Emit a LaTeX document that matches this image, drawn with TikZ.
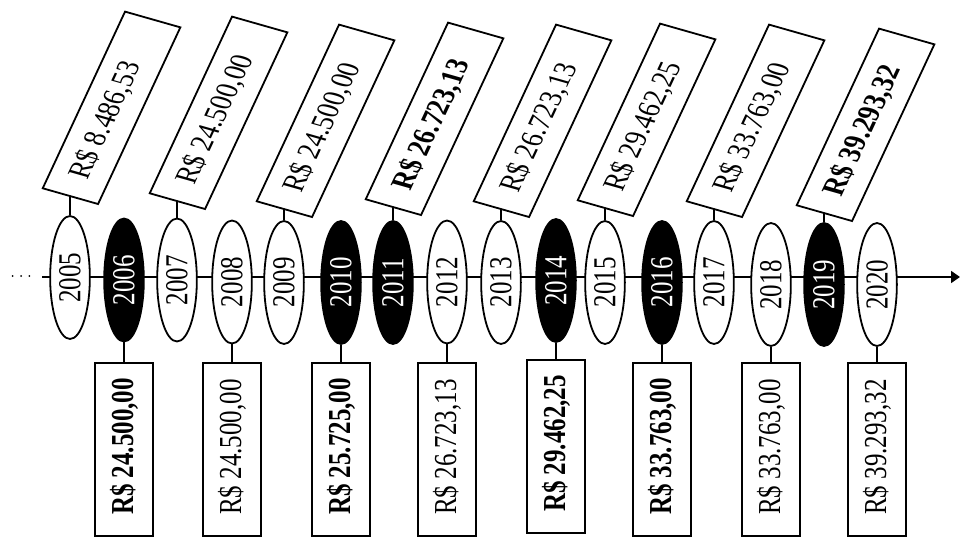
\documentclass[tikz,border=0pt]{standalone}
\usepackage{fontspec}
\setmainfont{Liberation Serif}
\usetikzlibrary{arrows.meta,shapes.geometric}

% value text, set flush left in a box of fixed length
\newcommand{\valtop}[1]{\makebox[150pt][l]{#1}}
\newcommand{\valbot}[1]{\makebox[131pt][l]{#1}}

\begin{document}
\begin{tikzpicture}[
    x=1pt, y=1pt,
    font=\fontsize{25}{30}\selectfont,
    line width=1.8pt,
    yearnode/.style={ellipse, draw, fill=white, rotate=90, minimum width=123pt, minimum height=31pt, inner sep=0pt},
    yearhi/.style={yearnode, fill=black, text=white},
    topbox/.style={rectangle, draw, fill=white, rotate=70, anchor=west, minimum height=46pt, inner xsep=19pt, inner ysep=0pt},
    botbox/.style={rectangle, draw, fill=white, rotate=90, anchor=east, minimum height=45pt, inner xsep=21pt, inner ysep=0pt},
    boldval/.style={font=\fontsize{25}{30}\selectfont\bfseries},
    axis/.style={-{Triangle[length=9pt, width=12pt]}},
    dots/.style={line cap=round, dash pattern=on 0pt off 8.3pt, line width=2pt}
]
\useasboundingbox (0,0) rectangle (960,536);

% ============================================================
% TIME AXIS — drawn first so the years sit on top of it
% ============================================================
\coordinate (dotsL) at (12.7,260);
\coordinate (dotsR) at (29.3,260);
\coordinate (axstart) at (42,259);
\coordinate (axend) at (960,259);
\draw[dots] (dotsL) -- (dotsR);
\draw[axis] (axstart) -- (axend);

\begin{scope}[xscale=1.28, transform shape]
% ============================================================
% YEARS
% ============================================================
\node[yearnode] (y2005) at (54.69,258.5) {2005};
\node[yearhi]   (y2006) at (96.88,256)   {2006};
\node[yearnode] (y2007) at (138.28,256)  {2007};
\node[yearnode] (y2008) at (181.25,254)  {2008};
\node[yearnode] (y2009) at (221.88,253.5) {2009};
\node[yearhi]   (y2010) at (266.41,253.5) {2010};
\node[yearhi]   (y2011) at (307.03,253.5) {2011};
\node[yearnode] (y2012) at (349.22,254)  {2012};
\node[yearnode] (y2013) at (391.41,253.5) {2013};
\node[yearhi]   (y2014) at (434.38,255.5) {2014};
\node[yearnode] (y2015) at (472.66,253.5) {2015};
\node[yearhi]   (y2016) at (517.19,253.5) {2016};
\node[yearnode] (y2017) at (557.81,253.5) {2017};
\node[yearnode] (y2018) at (602.34,251.5) {2018};
\node[yearhi]   (y2019) at (643.75,251.5) {2019};
\node[yearnode] (y2020) at (685.16,251.5) {2020};

% ============================================================
% VALUES ABOVE (odd years)
% ============================================================
\node[topbox] (t2005) at (54.69,339)  {\valtop{R\$ 8.486,53}};
\node[topbox] (t2007) at (138.28,334) {\valtop{R\$ 24.500,00}};
\node[topbox] (t2009) at (221.88,326) {\valtop{R\$ 24.500,00}};
\node[topbox, boldval] (t2011) at (307.03,328) {\valtop{R\$ 26.723,13}};
\node[topbox] (t2013) at (391.41,326) {\valtop{R\$ 26.723,13}};
\node[topbox] (t2015) at (472.66,327) {\valtop{R\$ 29.462,25}};
\node[topbox] (t2017) at (557.81,326) {\valtop{R\$ 33.763,00}};
\node[topbox, boldval] (t2019) at (643.75,322) {\valtop{R\$ 39.293,32}};

% ============================================================
% VALUES BELOW (even years)
% ============================================================
\node[botbox, boldval] (b2006) at (96.88,174)  {\valbot{R\$ 24.500,00}};
\node[botbox] (b2008) at (181.25,174) {\valbot{R\$ 24.500,00}};
\node[botbox, boldval] (b2010) at (266.41,174) {\valbot{R\$ 25.725,00}};
\node[botbox] (b2012) at (349.22,174) {\valbot{R\$ 26.723,13}};
\node[botbox, boldval] (b2014) at (434.38,177) {\valbot{R\$ 29.462,25}};
\node[botbox, boldval] (b2016) at (517.19,174) {\valbot{R\$ 33.763,00}};
\node[botbox] (b2018) at (602.34,174) {\valbot{R\$ 33.763,00}};
\node[botbox] (b2020) at (685.16,174) {\valbot{R\$ 39.293,32}};

% stems
\draw (y2005.east) -- (t2005.west);
\draw (y2007.east) -- (t2007.west);
\draw (y2009.east) -- (t2009.west);
\draw (y2011.east) -- (t2011.west);
\draw (y2013.east) -- (t2013.west);
\draw (y2015.east) -- (t2015.west);
\draw (y2017.east) -- (t2017.west);
\draw (y2019.east) -- (t2019.west);

\draw (y2006.west) -- (b2006.east);
\draw (y2008.west) -- (b2008.east);
\draw (y2010.west) -- (b2010.east);
\draw (y2012.west) -- (b2012.east);
\draw (y2014.west) -- (b2014.east);
\draw (y2016.west) -- (b2016.east);
\draw (y2018.west) -- (b2018.east);
\draw (y2020.west) -- (b2020.east);
\end{scope}

\end{tikzpicture}
\end{document}
